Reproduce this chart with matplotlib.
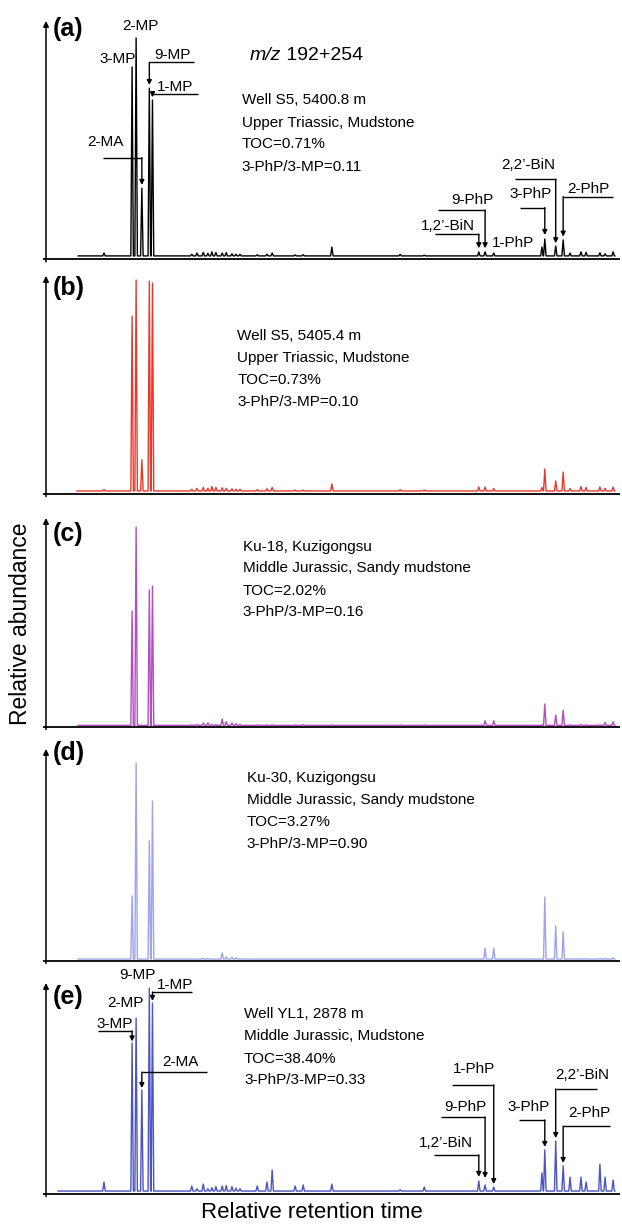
import matplotlib
matplotlib.use('Agg')
import matplotlib.pyplot as plt

plt.rcParams['font.family'] = ['Liberation Sans', 'DejaVu Sans']

# peak identities and relative retention times (0-100 across the x axis)
peak_names = ['3-MP', '2-MP', '2-MA', '9-MP', '1-MP', '1,2’-BiN', '9-PhP',
              '1-PhP', '3-PhP', '2,2’-BiN', '2-PhP']
peak_rt = [15.0, 15.7, 16.7, 18.0, 18.55, 75.4, 76.5, 78.0, 86.9, 88.8, 90.1]

# peak heights, % of the y axis, per sample
height_a = [80.7, 92.9, 29.8, 71.8, 66.8, 3.0, 3.0, 2.5, 8.4, 5.5, 8.0]
height_b = [81.6, 98.2, 15.7, 97.7, 96.8, 3.2, 3.2, 2.5, 11.5, 6.0, 10.1]
height_c = [55.5, 95.7, 0.8, 65.6, 67.5, 0.8, 3.0, 3.0, 11.0, 5.7, 8.1]
height_d = [30.7, 93.4, 0.9, 56.6, 75.5, 0.9, 6.1, 6.1, 30.2, 16.5, 13.7]
height_e = [71.6, 83.4, 49.3, 97.6, 90.5, 6.2, 4.3, 3.3, 20.9, 25.1, 13.3]

# minor (unlabelled) peaks
minor_rt = [10.1, 25.4, 26.3, 27.4, 28.2, 28.9, 29.6, 30.7, 31.4, 32.4, 33.1, 33.8,
            36.8, 38.5, 39.4, 43.4, 44.8, 49.8, 61.7, 65.9, 86.4, 91.3, 93.2, 94.1,
            96.5, 97.4, 98.8]
minor_a = [2.5, 2.0, 2.5, 2.8, 2.4, 3.0, 2.7, 2.5, 2.7, 2.2, 2.0, 2.0, 1.8, 2.0, 2.5,
           1.7, 1.8, 5.0, 2.0, 1.6, 5.0, 2.5, 3.0, 2.8, 2.6, 2.2, 3.0]
minor_b = [2.0, 2.2, 2.6, 3.0, 2.6, 3.4, 3.0, 2.8, 2.6, 2.4, 2.2, 2.2, 2.0, 2.4, 3.0,
           1.8, 1.8, 4.6, 2.0, 1.8, 3.0, 2.5, 3.4, 3.0, 3.2, 2.6, 3.2]
minor_c = [0.8, 1.0, 1.2, 1.9, 2.0, 1.2, 1.2, 3.8, 2.5, 2.0, 1.6, 1.2, 1.0, 1.0, 1.0,
           1.0, 1.2, 1.0, 1.0, 1.0, 1.0, 1.0, 1.2, 1.0, 1.0, 2.2, 2.5]
minor_d = [0.9, 0.9, 0.9, 1.2, 1.2, 0.9, 0.9, 3.8, 2.0, 1.8, 1.5, 1.0, 0.9, 0.9, 0.9,
           0.9, 0.9, 0.9, 0.9, 0.9, 0.9, 1.0, 1.1, 1.0, 1.1, 1.3, 1.5]
minor_e = [5.7, 3.8, 2.5, 4.7, 2.5, 3.0, 3.5, 3.8, 4.0, 3.5, 2.8, 2.5, 3.8, 5.7, 11.4,
           3.8, 4.3, 4.7, 2.0, 3.3, 10.0, 8.0, 8.0, 5.7, 14.2, 8.0, 6.6]

baselines = [1.3, 1.4, 0.8, 0.9, 1.4]
trace_start = [5.6, 5.4, 5.6, 5.6, 2.1]
trace_end = 99.1

info_a = ['Well S5, 5400.8 m', 'Upper Triassic, Mudstone', 'TOC=0.71%', '3-PhP/3-MP=0.11']
info_b = ['Well S5, 5405.4 m', 'Upper Triassic, Mudstone', 'TOC=0.73%', '3-PhP/3-MP=0.10']
info_c = ['Ku-18, Kuzigongsu', 'Middle Jurassic, Sandy mudstone', 'TOC=2.02%', '3-PhP/3-MP=0.16']
info_d = ['Ku-30, Kuzigongsu', 'Middle Jurassic, Sandy mudstone', 'TOC=3.27%', '3-PhP/3-MP=0.90']
info_e = ['Well YL1, 2878 m', 'Middle Jurassic, Mudstone', 'TOC=38.40%', '3-PhP/3-MP=0.33']

panel_tags = ['(a)', '(b)', '(c)', '(d)', '(e)']
colors = ['black', '#e63a2e', '#b24dc2', '#9ea4ea', '#4b55c0']

# label placement: (name, text x, text y, [leader y, leader end x, arrow tip y])
labels_a = [('2-MP', 16.4, 97.9), ('3-MP', 12.4, 84.0),
            ('9-MP', 22.1, 85.7, 82.6, 25.7, 73.1),
            ('1-MP', 22.5, 72.3, 69.3, 26.5, 68.0),
            ('2-MA', 10.4, 49.0, 42.6, 9.9, 31.1),
            ('1,2’-BiN', 70.0, 13.9, 10.4, 67.8, 4.5),
            ('9-PhP', 74.3, 24.8, 20.6, 68.3, 4.5),
            ('1-PhP', 81.3, 6.7),
            ('3-PhP', 84.5, 27.4, 21.6, 82.5, 10.1),
            ('2,2’-BiN', 84.0, 39.4, 33.5, 81.7, 6.6),
            ('2-PhP', 94.5, 29.6, 26.2, 98.8, 9.4)]
labels_e = [('9-MP', 15.9, 103.6), ('2-MP', 13.8, 90.5),
            ('1-MP', 22.4, 99.1, 95.7, 25.4, 91.5),
            ('3-MP', 12.0, 80.6, 77.3, 9.1, 72.3),
            ('2-MA', 23.5, 62.6, 57.8, 28.0, 50.2),
            ('1-PhP', 74.6, 59.2, 51.7, 70.7, 4.7),
            ('9-PhP', 73.0, 41.2, 36.5, 68.8, 7.6),
            ('1,2’-BiN', 69.7, 24.2, 18.5, 67.6, 8.1),
            ('3-PhP', 84.1, 41.2, 35.1, 82.4, 22.3),
            ('2,2’-BiN', 93.4, 56.4, 49.8, 96.0, 26.5),
            ('2-PhP', 94.6, 38.4, 32.2, 98.3, 14.7)]

# layout in pixels: (arrow tip y, x axis y)
W, H = 622, 1224
bounds = [(21, 259), (276, 494), (518, 727), (749, 961), (983, 1194)]
tag_y = [96.6, 94.5, 92.3, 98.1, 93.4]
info_x = [34.1, 33.3, 34.3, 35.0, 34.5]
info_y = [[66.8, 57.1, 48.3, 38.7], [72.5, 62.4, 52.3, 42.2], [86.1, 76.1, 65.1, 55.0],
          [86.3, 75.9, 65.6, 55.2], [85.3, 74.9, 64.0, 54.0]]


def build_trace(start, end, base, rts, hs, w=0.22):
    xs, ys = [start], [base]
    for r, h in sorted(zip(rts, hs)):
        xs += [r - w, r, r + w]
        ys += [base, h, base]
    xs.append(end)
    ys.append(base)
    return xs, ys


def label_peaks(ax, specs):
    for spec in specs:
        name, tx, ty = spec[:3]
        ax.text(tx, ty, name, ha='center', va='center', fontsize=11)
        if len(spec) > 3:
            ly, far, tip = spec[3:]
            px = peak_rt[peak_names.index(name)]
            ax.plot([far, px], [ly, ly], color='k', lw=1.0, solid_capstyle='butt')
            ax.annotate('', xy=(px, tip), xytext=(px, ly),
                        arrowprops=dict(arrowstyle='-|>', color='k', lw=1.0,
                                        mutation_scale=7, shrinkA=0, shrinkB=0))


heights = [height_a, height_b, height_c, height_d, height_e]
minors = [minor_a, minor_b, minor_c, minor_d, minor_e]
infos = [info_a, info_b, info_c, info_d, info_e]

fig = plt.figure(figsize=(W / 100, H / 100), dpi=100)

for i in range(5):
    top_px, ax_px = bounds[i]
    ax = fig.add_axes([46 / W, 1 - ax_px / H, 574 / W, (ax_px - top_px) / H])
    ax.set_xlim(0, 100)
    ax.set_ylim(0, 100)
    ax.axis('off')

    # axes: baseline and arrowed y axis
    ax.plot([-0.006, 1.0], [0, 0], transform=ax.transAxes, color='k', lw=1.3,
            clip_on=False, solid_capstyle='butt')
    ax.annotate('', xy=(0, 1), xytext=(0, -0.012), xycoords='axes fraction',
                arrowprops=dict(arrowstyle='-|>', color='k', lw=1.1,
                                mutation_scale=8, shrinkA=0, shrinkB=0))

    xs, ys = build_trace(trace_start[i], trace_end, baselines[i],
                         peak_rt + minor_rt, heights[i] + minors[i])
    ax.plot(xs, ys, color=colors[i], lw=1.0)

    ax.text(1.2, tag_y[i], panel_tags[i], ha='left', va='center',
            fontsize=18, fontweight='bold')
    for line, y in zip(infos[i], info_y[i]):
        ax.text(info_x[i], y, line, ha='left', va='center', fontsize=11)

    if i == 0:
        label_peaks(ax, labels_a)
        mz = ax.text(35.5, 85.7, 'm/z', ha='left', va='center', fontsize=14,
                     fontstyle='italic')
        ax.annotate(' 192+254', xy=(1, 0), xycoords=mz, ha='left', va='bottom',
                    fontsize=14)
    if i == 4:
        label_peaks(ax, labels_e)

fig.text(27 / W, 1 - 624 / H, 'Relative abundance', rotation=90,
         rotation_mode='anchor', ha='center', va='baseline', fontsize=16.5)
fig.text(312 / W, 1 - 1212 / H, 'Relative retention time', ha='center',
         va='center', fontsize=16)

fig.savefig('out.png', dpi=100)
